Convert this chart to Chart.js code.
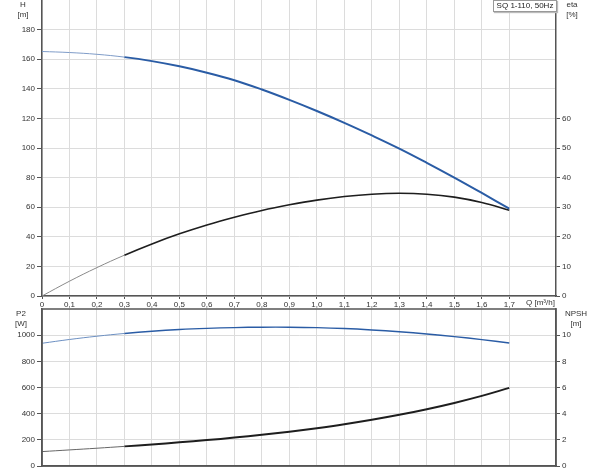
<!DOCTYPE html>
<html>
<head>
<meta charset="utf-8">
<script src="https://cdn.jsdelivr.net/npm/chart.js@4.4.0/dist/chart.umd.min.js"></script>
<style>
  body { margin: 0; background: #fff; width: 600px; height: 473px; overflow: hidden; position: relative;
         font-family: "Liberation Sans", Arial, sans-serif; }
  #topChart { position: absolute; left: 0; top: -20px; }
  #bottomChart { position: absolute; left: 0; top: 300px; }
  .lbl { position: absolute; font-size: 8px; color: #333; text-align: center; line-height: 10px; white-space: nowrap; }
  .title { position: absolute; left: 493px; top: 0; width: 62px; height: 10px; border: 1px solid #999;
           box-shadow: 1px 1px 1px #bbb; background: #fff; font-size: 8px; line-height: 10px; text-align: center; color: #222; }
</style>
</head>
<body>
<canvas id="topChart" width="600" height="332"></canvas>
<canvas id="bottomChart" width="600" height="173"></canvas>

<div class="lbl" style="left:13px;top:0px;width:20px;">H<br>[m]</div>
<div class="lbl" style="left:561px;top:0px;width:22px;">eta<br>[%]</div>
<div class="lbl" style="left:10px;top:309px;width:22px;">P2<br>[W]</div>
<div class="lbl" style="left:562px;top:309px;width:28px;">NPSH<br>[m]</div>
<div class="lbl" style="left:526px;top:298px;text-align:left;">Q [m³/h]</div>
<div class="title">SQ 1-110, 50Hz</div>

<script>
// flow rate Q [m3/h]
var qValues = [0, 0.1, 0.2, 0.3, 0.4, 0.5, 0.6, 0.7, 0.8, 0.9, 1.0, 1.1, 1.2, 1.3, 1.4, 1.5, 1.6, 1.7];
// head H [m]
var headValues = [165.2, 164.5, 163.3, 161.4, 158.7, 155.2, 150.9, 145.8, 139.5, 132.5, 125.0, 117.0, 108.5, 99.6, 90.0, 80.0, 69.6, 59.0];
// efficiency eta [%]
var etaValues = [0, 5.0, 9.6, 13.8, 17.6, 21.0, 24.0, 26.6, 28.9, 30.8, 32.4, 33.6, 34.4, 34.7, 34.4, 33.4, 31.6, 29.0];
// power P2 [W]
var p2Values = [938, 967, 992, 1013, 1030, 1043, 1052, 1058, 1061, 1061, 1058, 1051, 1040, 1026, 1009, 989, 966, 940];
// NPSH [m]
var npshValues = [1.10, 1.23, 1.36, 1.50, 1.65, 1.81, 1.98, 2.17, 2.38, 2.62, 2.89, 3.19, 3.53, 3.91, 4.34, 4.82, 5.36, 5.97];

var FONT = { family: '"Liberation Sans", Arial, sans-serif', size: 8 };
var GRID = '#dcdcdc';
var AXIS = '#555';
var BLUE = '#2a5ca5';
var BLACK = '#1e1e1e';

function pts(ys) {
  return qValues.map(function (q, i) { return { x: q, y: ys[i] }; });
}

// first part of each curve is drawn thin and light
function curve(ys, axis, color, thinColor, width) {
  return {
    data: pts(ys),
    yAxisID: axis,
    borderColor: color,
    borderWidth: width,
    pointRadius: 0,
    tension: 0.4,
    fill: false,
    segment: {
      borderWidth: function (c) { return c.p0DataIndex < 3 ? 1 : width; },
      borderColor: function (c) { return c.p0DataIndex < 3 ? thinColor : color; }
    }
  };
}

function keepTo(limit) {
  return function (axis) {
    axis.ticks = axis.ticks.filter(function (t) { return t.value <= limit + 1e-6; });
  };
}

function fixWidth(w) { return function (s) { s.width = w; }; }
function fixHeight(h) { return function (s) { s.height = h; }; }

function qLabel(v) {
  if (v === 0) return '0';
  if (Math.abs(v - 1.8) < 1e-6) return '';
  return v.toFixed(1).replace('.', ',');
}

function plain(v) { return String(Math.round(v)); }

function yLeft(max, step, limit, width) {
  return {
    type: 'linear', position: 'left', min: 0, max: max,
    afterBuildTicks: keepTo(limit), afterFit: fixWidth(width),
    grid: { color: GRID, tickColor: AXIS, tickLength: 5 },
    border: { color: AXIS, width: 1.5 },
    ticks: { stepSize: step, font: FONT, color: '#333', padding: 2, callback: plain }
  };
}

function yRight(max, step, limit, width) {
  return {
    type: 'linear', position: 'right', min: 0, max: max,
    afterBuildTicks: keepTo(limit), afterFit: fixWidth(width),
    grid: { drawOnChartArea: false, tickColor: AXIS, tickLength: 4 },
    border: { color: AXIS, width: 1.5 },
    ticks: { stepSize: step, font: FONT, color: '#333', padding: 2, callback: plain }
  };
}

var boxPlugin = {
  id: 'box',
  afterDraw: function (chart) {
    var a = chart.chartArea, ctx = chart.ctx;
    ctx.save();
    ctx.strokeStyle = AXIS;
    ctx.lineWidth = 1.5;
    ctx.strokeRect(a.left, a.top, a.right - a.left, a.bottom - a.top);
    ctx.restore();
  }
};

//- TOP CHART : H and eta -
new Chart(document.getElementById('topChart').getContext('2d'), {
  type: 'line',
  data: {
    datasets: [
      curve(headValues, 'h', BLUE, '#7f9cc8', 2),
      curve(etaValues, 'eta', BLACK, '#8a8a8a', 1.6)
    ]
  },
  options: {
    responsive: false,
    animation: false,
    devicePixelRatio: 1,
    layout: { padding: { top: 20, left: 0, right: 0, bottom: 0 } },
    plugins: { legend: { display: false }, tooltip: { enabled: false } },
    scales: {
      x: {
        type: 'linear', min: 0, max: 1.87,
        afterBuildTicks: keepTo(1.8), afterFit: fixHeight(16),
        grid: { color: GRID, tickColor: AXIS, tickLength: 3 },
        border: { color: AXIS, width: 1.5 },
        ticks: { stepSize: 0.1, font: FONT, color: '#333', padding: 1, maxRotation: 0, autoSkip: false, callback: qLabel }
      },
      h: yLeft(200, 20, 180, 42),
      eta: yRight(100, 10, 60, 44)
    }
  }
});

//- BOTTOM CHART : P2 and NPSH -
new Chart(document.getElementById('bottomChart').getContext('2d'), {
  type: 'line',
  data: {
    datasets: [
      curve(p2Values, 'p2', BLUE, '#6d90c2', 1.4),
      curve(npshValues, 'npsh', BLACK, '#666', 2)
    ]
  },
  options: {
    responsive: false,
    animation: false,
    devicePixelRatio: 1,
    layout: { padding: { top: 9, left: 0, right: 0, bottom: 0 } },
    plugins: { legend: { display: false }, tooltip: { enabled: false } },
    scales: {
      x: {
        type: 'linear', min: 0, max: 1.87,
        afterBuildTicks: keepTo(1.8), afterFit: fixHeight(7),
        grid: { color: GRID, drawTicks: false },
        border: { color: AXIS, width: 1.5 },
        ticks: { stepSize: 0.1, display: false }
      },
      p2: yLeft(1200, 200, 1000, 42),
      npsh: yRight(12, 2, 10, 44)
    }
  },
  plugins: [boxPlugin]
});
</script>
</body>
</html>
